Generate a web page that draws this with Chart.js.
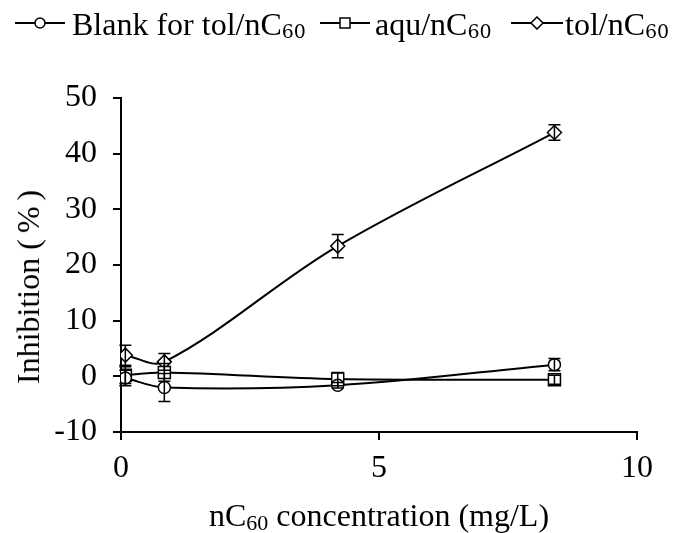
<!DOCTYPE html>
<html>
<head>
<meta charset="utf-8">
<script src="https://cdn.jsdelivr.net/npm/chart.js@4.4.1/dist/chart.umd.min.js"></script>
<style>
  body { margin: 0; background: #fff; }
  #wrap { position: relative; width: 676px; height: 533px; font-family: "Liberation Serif", "Times New Roman", serif; color: #000; overflow: hidden; }
  #chart { position: absolute; left: 0; top: 0; }
  .sym { position: absolute; top: 16px; }
  .ltxt { position: absolute; top: 8px; font-size: 32px; line-height: 32px; white-space: nowrap; }
  .ltxt sub { font-family: "DejaVu Serif", serif; font-size: 19px; vertical-align: -3px; line-height: 0; }
  .xtitle { position: absolute; top: 499px; left: 0; width: 758px; text-align: center; font-size: 32px; line-height: 32px; white-space: nowrap; }
  .xtitle sub { font-size: 22px; vertical-align: -4px; line-height: 0; }
  .ytitle { position: absolute; left: 28px; top: 284px; font-size: 32px; line-height: 32px; transform: translate(-50%, -50%) rotate(-90deg); white-space: nowrap; }
  .ytitle span { letter-spacing: 6px; }
</style>
</head>
<body>
<div id="wrap">
  <canvas id="chart" width="676" height="533"></canvas>
  <svg class="sym" style="left:15px" width="50" height="14"><line x1="0" y1="7" x2="50" y2="7" stroke="#000" stroke-width="2"/><circle cx="25" cy="7" r="5" fill="#fff" stroke="#000" stroke-width="1.5"/></svg>
  <div class="ltxt" style="left:72px">Blank for tol/nC<sub>60</sub></div>
  <svg class="sym" style="left:320px" width="50" height="14"><line x1="0" y1="7" x2="50" y2="7" stroke="#000" stroke-width="2"/><rect x="20" y="2" width="10" height="10" fill="#fff" stroke="#000" stroke-width="1.5"/></svg>
  <div class="ltxt" style="left:375px">aqu/nC<sub>60</sub></div>
  <svg class="sym" style="left:511px" width="52" height="14"><line x1="0" y1="7" x2="52" y2="7" stroke="#000" stroke-width="2"/><polygon points="26,1 32,7 26,13 20,7" fill="#fff" stroke="#000" stroke-width="1.5"/></svg>
  <div class="ltxt" style="left:565px">tol/nC<sub>60</sub></div>
  <div class="ytitle">Inhibition <span>(%)</span></div>
  <div class="xtitle">nC<sub>60</sub> concentration (mg/L)</div>
</div>
<script>
// concentrations (mg/L)
const blankX = [0.084, 0.84, 4.2, 8.4];
const blankY = [-0.3, -2.0, -1.6, 2.1];
const blankErr = [1.4, 2.5, 0.5, 1.1];

const aquX = [0, 0.084, 0.84, 4.2, 8.4];
const aquY = [0, 0.2, 0.7, -0.5, -0.6];
const aquErr = [0, 1.5, 1.6, 1.2, 0.8];

const tolX = [0.084, 0.84, 4.2, 8.4];
const tolY = [3.8, 2.6, 23.4, 43.8];
const tolErr = [1.8, 1.5, 2.1, 1.4];

const yTicks = [-10, 0, 10, 20, 30, 40, 50];
const xTicks = [0, 5, 10];

const FONT = { family: '"Liberation Serif", "Times New Roman", serif', size: 32 };

function pts(xs, ys) {
  return xs.map((x, i) => ({ x: x, y: ys[i] }));
}

function series(label, xs, ys, errs, style, radius) {
  return {
    label: label,
    data: pts(xs, ys),
    errors: errs,
    showLine: true,
    borderColor: '#000',
    borderWidth: 2,
    tension: 0.35,
    pointStyle: style,
    pointRadius: radius,
    pointBackgroundColor: '#fff',
    pointBorderColor: '#000',
    pointBorderWidth: 1.5
  };
}

// vertical error bars with caps
const errorBars = {
  id: 'errorBars',
  afterDatasetsDraw(chart) {
    const ctx = chart.ctx;
    const xs = chart.scales.x, ys = chart.scales.y;
    ctx.save();
    ctx.strokeStyle = '#000';
    ctx.lineWidth = 1.5;
    chart.data.datasets.forEach(ds => {
      ds.data.forEach((p, i) => {
        const e = ds.errors[i];
        if (!e) return;
        const px = xs.getPixelForValue(p.x);
        const top = ys.getPixelForValue(p.y + e);
        const bot = ys.getPixelForValue(p.y - e);
        ctx.beginPath();
        ctx.moveTo(px, top); ctx.lineTo(px, bot);
        ctx.moveTo(px - 6, top); ctx.lineTo(px + 6, top);
        ctx.moveTo(px - 6, bot); ctx.lineTo(px + 6, bot);
        ctx.stroke();
      });
    });
    ctx.restore();
  }
};

new Chart(document.getElementById('chart'), {
  type: 'scatter',
  data: {
    datasets: [
      series('Blank for tol/nC60', blankX, blankY, blankErr, 'circle', 6),
      series('aqu/nC60', aquX, aquY, aquErr, 'rect', 8.5),
      series('tol/nC60', tolX, tolY, tolErr, 'rectRot', 7)
    ]
  },
  options: {
    responsive: false,
    animation: false,
    layout: { padding: { top: 98, right: 39, bottom: 0, left: 0 } },
    plugins: { legend: { display: false }, tooltip: { enabled: false } },
    scales: {
      x: {
        type: 'linear',
        min: 0, max: 10,
        afterBuildTicks: s => { s.ticks = xTicks.map(v => ({ value: v })); },
        afterFit: s => { s.height = 101; },
        grid: { drawOnChartArea: false, drawTicks: true, tickLength: 8, color: '#000', lineWidth: 2 },
        border: { color: '#000', width: 2 },
        ticks: { color: '#000', font: FONT, padding: 9 }
      },
      y: {
        min: -10, max: 50,
        afterBuildTicks: s => { s.ticks = yTicks.map(v => ({ value: v })); },
        afterFit: s => { s.width = 121; },
        grid: { drawOnChartArea: false, drawTicks: true, tickLength: 8, color: '#000', lineWidth: 2 },
        border: { color: '#000', width: 2 },
        ticks: { color: '#000', font: FONT, padding: 16 }
      }
    }
  },
  plugins: [errorBars]
});
</script>
</body>
</html>
